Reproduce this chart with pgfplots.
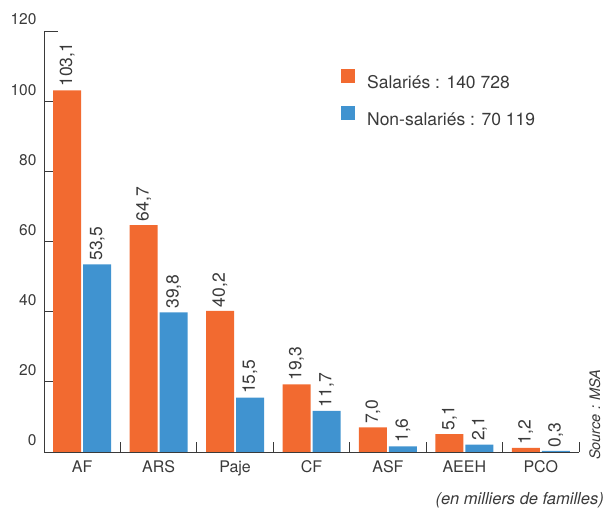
\documentclass[border=0pt]{standalone}
\usepackage{fontspec}
\setmainfont{TeX Gyre Heros}
\usepackage{pgfplots}
\pgfplotsset{compat=1.18}
\definecolor{orng}{HTML}{F26A30}
\definecolor{blu}{HTML}{4093D0}
\definecolor{txt}{HTML}{3A3A3A}
\begin{document}
\begin{tikzpicture}
\useasboundingbox (0bp,0bp) rectangle (606bp,509bp);
\begin{axis}[
  at={(44bp,57bp)}, anchor=south west,
  scale only axis, width=535bp, height=421bp,
  xmin=-0.5, xmax=6.5, ymin=0, ymax=120,
  enlargelimits=false,
  ybar=2bp, bar width=28bp,
  axis lines=left,
  axis line style={-, draw=txt, line width=0.8bp},
  tick align=inside,
  ytick={0,20,...,120},
  major tick length=14bp, minor tick length=10bp,
  tick style={draw=txt, line width=0.8bp},
  xtick={0,...,6},
  xticklabels={AF,ARS,Paje,CF,ASF,AEEH,PCO},
  minor xtick={0.5,1.5,...,6.5},
  every major x tick/.append style={draw=none},
  /pgf/number format/assume math mode=true,
  yticklabel style={font=\fontsize{15.5bp}{17bp}\selectfont, text=txt, anchor=east, xshift=-4bp, yshift=11.5bp},
  xticklabel style={font=\fontsize{16bp}{18bp}\selectfont, text=txt, yshift=-5bp},
  nodes near coords={\pgfmathprintnumber[fixed,fixed zerofill,precision=1,use comma]{\pgfplotspointmeta}},
  every node near coord/.append style={rotate=90, anchor=west, inner xsep=3.5bp, inner ysep=0pt, font=\fontsize{17.5bp}{19bp}\selectfont, text=txt},
  legend style={draw=none, fill=none, at={(0.555,0.910)}, anchor=north west, inner sep=0pt, row sep=16bp,
     nodes={inner sep=0pt, font=\fontsize{17.5bp}{20bp}\selectfont, text=txt}},
  legend cell align=left,
  legend image code/.code={\fill[#1,draw=none] (0bp,0bp) rectangle (14bp,14bp); \path (26bp,0bp);},
]
\addplot[fill=orng, draw=none] coordinates {(0,103.1) (1,64.7) (2,40.2) (3,19.3) (4,7.0) (5,5.1) (6,1.2)};
\addlegendentry{Salariés : 140 728}
\addplot[fill=blu, draw=none] coordinates {(0,53.5) (1,39.8) (2,15.5) (3,11.7) (4,1.6) (5,2.1) (6,0.3)};
\addlegendentry{Non-salariés : 70 119}
\end{axis}
\node[anchor=base east, inner sep=0pt, text=txt, font=\fontsize{16.5bp}{18bp}\selectfont\itshape] at (604bp,5bp) {(en milliers de familles)};
\node[rotate=90, anchor=base west, inner sep=0pt, text=txt, font=\fontsize{14.5bp}{16bp}\selectfont\itshape] at (600bp,49bp) {Source : MSA};
\end{tikzpicture}
\end{document}
